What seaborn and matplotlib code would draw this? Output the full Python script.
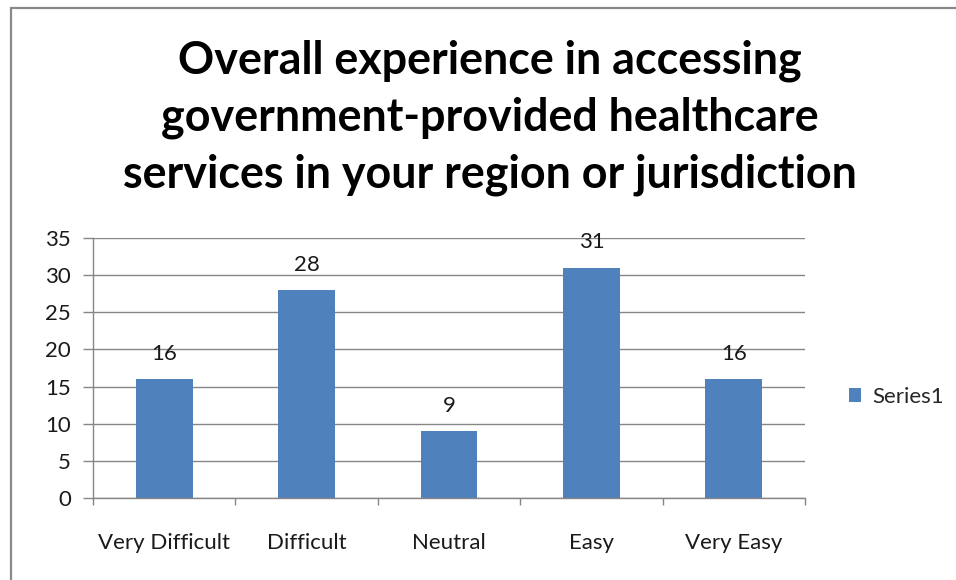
import matplotlib
matplotlib.use("Agg")
import matplotlib.pyplot as plt
import seaborn as sns
import pandas as pd
from matplotlib.patches import Rectangle, Patch

categories = ["Very Difficult", "Difficult", "Neutral", "Easy", "Very Easy"]
values = [16, 28, 9, 31, 16]
series_name = "Series1"
title = "Overall experience in accessing\ngovernment-provided healthcare\nservices in your region or jurisdiction"

sns.set_theme(style="white")
plt.rcParams["font.family"] = ["Lato", "DejaVu Sans"]

W, H = 956, 580
fig = plt.figure(figsize=(W / 100, H / 100), dpi=100)
ax = fig.add_axes([93 / W, 1 - 498 / H, (805 - 93) / W, (498 - 238) / H])

df = pd.DataFrame({"cat": categories, "val": values})
bar_color = "#4F81BD"
sns.barplot(data=df, x="cat", y="val", color=bar_color, width=0.4, ax=ax,
            saturation=1, edgecolor="none")

grid_c = "#868686"
fs = 16
tc = "#1a1a1a"
ax.set_ylim(0, 35)
ax.set_xlim(-0.5, len(categories) - 0.5)
ax.set_yticks(range(0, 36, 5))
ax.yaxis.grid(True, color=grid_c, linewidth=1.0)
ax.set_axisbelow(True)
for s in ["top", "right"]:
    ax.spines[s].set_visible(False)
for s in ["left", "bottom"]:
    ax.spines[s].set_color(grid_c)
    ax.spines[s].set_linewidth(1.0)

ax.tick_params(axis="y", which="major", length=7, width=1.0, color=grid_c,
               direction="out", pad=9, labelsize=fs, labelcolor=tc, left=True)
ax.set_xticks(range(len(categories)))
ax.set_xticklabels(categories)
ax.tick_params(axis="x", which="major", length=0, pad=25, labelsize=fs, labelcolor=tc)
ax.set_xticks([i - 0.5 for i in range(len(categories) + 1)], minor=True)
ax.tick_params(axis="x", which="minor", length=5, width=1.0, color=grid_c,
               direction="out", bottom=True)
ax.set_xlabel("")
ax.set_ylabel("")

for i, v in enumerate(values):
    ax.annotate(str(v), (i, v), xytext=(0, 11), textcoords="offset points",
                ha="center", va="bottom", fontsize=fs, color=tc)

handles = [Patch(facecolor=bar_color, edgecolor="none", label=series_name)]
fig.legend(handles=handles, loc="center left", bbox_to_anchor=(840 / W, 1 - 397 / H),
           frameon=False, fontsize=fs, handlelength=0.55, handleheight=0.55,
           handletextpad=0.5, borderaxespad=0)

fig.text(490 / W, 1 - 118 / H, title, ha="center", va="center", fontsize=32.3,
         fontweight="bold", color="black", linespacing=1.42)

fig.patches.append(Rectangle((11 / W, -0.1), 1.2, 1.1 - 8 / H, transform=fig.transFigure,
                             fill=False, edgecolor="#898989", linewidth=1.6, zorder=0))

fig.savefig("out.png", dpi=100)
